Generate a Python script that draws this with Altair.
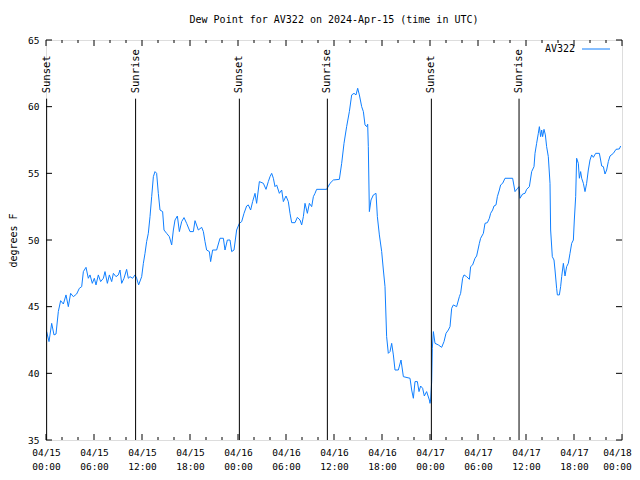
import altair as alt
import pandas as pd

# ---- data ----
title_text = "Dew Point for AV322 on 2024-Apr-15 (time in UTC)"
series_name = "AV322"

hours = [0.08, 0.375, 0.71, 1.0, 1.25, 1.54, 1.83, 2.17, 2.5, 2.79, 3.08, 3.42, 3.83, 4.17, 4.46, 4.67, 5.0, 5.29, 5.5, 5.79,
         6.04, 6.25, 6.54, 6.83, 7.17, 7.375, 7.67, 7.92, 8.21, 8.42, 8.75, 9.04, 9.25, 9.46, 9.75, 10.08, 10.29, 10.5, 10.83, 11.125,
         11.33, 11.58, 11.96, 12.17, 12.375, 12.58, 12.79, 13.0, 13.21, 13.42, 13.625, 13.83, 14.04, 14.25, 14.58, 14.75, 15.08, 15.42, 15.71, 15.92,
         16.125, 16.42, 16.67, 16.96, 17.25, 17.58, 18.0, 18.42, 18.625, 19.04, 19.46, 19.67, 19.875, 20.08, 20.42, 20.58, 20.83, 21.33, 21.75, 22.17,
         22.375, 22.67, 23.0, 23.21, 23.5, 23.83, 24.17, 24.46, 24.75, 25.08,
         25.29, 25.58, 25.83, 26.125, 26.33, 26.67, 27.17, 27.5, 27.79, 28.0, 28.21, 28.42, 28.625, 28.83, 29.17, 29.46, 29.67, 30.0, 30.29, 30.5,
         30.71, 31.125, 31.42, 31.75, 31.96, 32.17, 32.375, 32.67, 32.92, 33.21, 33.42, 33.625, 33.83, 35.08, 35.5, 35.92, 36.67, 36.96, 37.25, 37.58,
         37.92, 38.21, 38.5, 38.75, 38.96, 39.17, 39.46, 39.67, 39.875, 40.08, 40.21, 40.29, 40.42, 40.625, 40.92, 41.25, 41.42, 41.67, 41.96, 42.17,
         42.375, 42.58, 42.79, 43.0, 43.21, 43.42, 43.625, 44.04, 44.375, 44.67, 45.5, 45.71, 45.92, 46.125, 46.42, 46.625, 46.83, 47.08, 47.29, 47.58,
         47.92, 48.0,
         48.08, 48.21, 48.29, 48.42, 48.625, 49.04, 49.46, 49.75, 50.0, 50.29, 50.5, 50.71, 50.92, 51.33, 51.67, 51.83, 52.08, 52.25, 52.58, 52.92,
         53.08, 53.33, 53.625, 53.83, 54.17, 54.33, 54.67, 54.875, 55.17, 55.42, 55.58, 55.83, 56.0, 56.25, 56.42, 56.67, 56.83, 57.08, 57.375, 58.33,
         58.625, 58.96, 59.125, 59.25, 59.58, 59.875, 60.08, 60.42, 60.71, 61.0, 61.125, 61.33, 61.54, 61.67, 61.83, 61.96, 62.08, 62.25, 62.42, 62.58,
         62.79, 63.0, 63.08, 63.29, 63.5, 63.625, 63.83, 63.92, 64.17, 64.33, 64.46, 64.67, 64.875, 65.08, 65.29, 65.5, 65.71, 65.92, 66.04, 66.21,
         66.33, 66.54, 66.67, 66.83, 66.96, 67.17, 67.375, 67.58, 67.79, 68.0, 68.21, 68.42, 68.71, 69.17, 69.33, 69.46, 69.67, 69.875, 70.08, 70.29,
         70.5, 70.92, 71.25, 71.67, 71.83]
dewpoint = [43.13, 42.38, 43.75, 42.88, 42.95, 44.63, 45.45, 45.2, 45.88, 45.0, 46.0, 45.75, 45.95, 46.38, 46.5, 47.63, 47.95, 47.13, 47.38, 46.75,
            47.13, 46.63, 47.38, 46.88, 47.13, 47.63, 46.75, 47.38, 46.88, 47.5, 47.25, 47.38, 47.75, 46.75, 47.13, 47.8, 47.13, 47.25, 47.13, 47.38,
            47.13, 46.63, 47.25, 48.25, 49.0, 49.88, 50.5, 51.75, 53.25, 54.75, 55.13, 55.0, 53.5, 52.25, 52.13, 50.75, 50.5, 50.25, 49.63, 50.75,
            51.5, 51.8, 50.63, 51.38, 51.68, 51.25, 50.63, 50.63, 51.45, 50.75, 50.95, 50.63, 49.88, 49.25, 49.13, 48.38, 49.25, 49.25, 50.13, 50.13,
            49.25, 50.0, 50.0, 49.13, 49.25, 50.75, 51.25, 51.38, 52.0, 52.55,
            52.63, 52.25, 52.88, 53.5, 52.75, 54.38, 54.25, 53.8, 54.38, 54.75, 55.0, 54.63, 54.0, 54.13, 53.5, 53.75, 52.88, 53.3, 52.88, 52.0,
            51.3, 51.3, 51.7, 51.5, 51.13, 51.75, 52.75, 52.0, 52.75, 52.5, 53.25, 53.5, 53.8, 53.8, 54.25, 54.5, 54.55, 55.75, 57.25, 58.5,
            59.63, 60.88, 61.0, 60.88, 61.38, 60.88, 60.0, 59.63, 58.63, 58.5, 58.68, 57.0, 52.13, 53.0, 53.38, 53.5, 51.75, 50.38, 49.13, 47.75,
            46.5, 42.75, 41.5, 41.63, 42.25, 41.38, 40.25, 40.25, 41.0, 39.75, 39.63, 38.75, 38.13, 39.38, 39.38, 38.63, 39.05, 38.88, 38.3, 38.63,
            38.0, 37.75,
            38.0, 39.38, 41.88, 43.13, 42.25, 42.13, 41.95, 42.38, 43.0, 43.25, 43.5, 44.88, 45.13, 45.0, 45.75, 46.0, 47.13, 47.38, 47.25, 47.05,
            48.0, 48.13, 48.63, 48.8, 49.75, 50.13, 50.5, 51.25, 51.3, 51.63, 52.0, 52.25, 52.55, 52.63, 53.25, 53.75, 54.13, 54.25, 54.63, 54.63,
            53.63, 53.88, 54.0, 53.13, 53.45, 53.5, 53.8, 54.0, 55.13, 55.5, 56.5, 57.25, 58.0, 58.5, 57.75, 58.25, 57.75, 58.3, 57.88, 57.0,
            56.25, 54.25, 50.75, 48.75, 48.5, 47.75, 46.38, 45.88, 45.88, 46.5, 47.25, 48.25, 47.3, 48.0, 48.25, 49.0, 49.75, 50.0, 51.5, 53.25,
            56.13, 55.75, 54.63, 55.13, 54.63, 54.25, 53.63, 54.25, 55.25, 56.0, 56.38, 56.2, 56.5, 56.5, 56.0, 55.55, 55.5, 54.95, 55.25, 55.88,
            56.3, 56.5, 56.8, 56.83, 57.05]

sun_hours = [0.08, 11.2, 24.17, 35.17, 48.17, 59.13]
sun_labels = ["Sunset", "Sunrise", "Sunset", "Sunrise", "Sunset", "Sunrise"]

major_ticks = [0, 6, 12, 18, 24, 30, 36, 42, 48, 54, 60, 66, 72]
minor_ticks = [2, 4, 8, 10, 14, 16, 20, 22, 26, 28, 32, 34, 38, 40, 44, 46, 50, 52, 56, 58, 62, 64, 68, 70]
date_labels = ["04/15", "04/15", "04/15", "04/15", "04/16", "04/16", "04/16", "04/16", "04/17", "04/17", "04/17", "04/17", "04/18"]
time_labels = ["00:00", "06:00", "12:00", "18:00", "00:00", "06:00", "12:00", "18:00", "00:00", "06:00", "12:00", "18:00", "00:00"]
y_ticks = [35, 40, 45, 50, 55, 60, 65]

FONT = "DejaVu Sans Mono"
FS = 10
TICK_FS = 9.5
LINE_COLOR = "#0f7fff"
W, H = 576, 400

df = pd.DataFrame({"hour": hours, "dew": dewpoint})
sun_df = pd.DataFrame({"hour": sun_hours, "label": sun_labels})
major_df = pd.DataFrame({"hour": major_ticks})
minor_df = pd.DataFrame({"hour": minor_ticks})
ytick_df = pd.DataFrame({"dew": y_ticks})
legend_df = pd.DataFrame({"name": [series_name]})

xscale = alt.Scale(domain=[0, 72], nice=False, zero=False)
yscale = alt.Scale(domain=[35, 65], nice=False, zero=False)

dl = "[" + ",".join(f"'{d}'" for d in date_labels) + "]"
tl = "[" + ",".join(f"'{t}'" for t in time_labels) + "]"
label_expr = f"[{dl}[round(datum.value/6)], {tl}[round(datum.value/6)]]"

xaxis = alt.Axis(values=major_ticks, labelExpr=label_expr, ticks=False, domain=False, grid=False,
                 title=None, labelFont=FONT, labelFontSize=TICK_FS, labelColor="black",
                 labelPadding=7, labelLineHeight=14, labelAngle=0, labelAlign="center", labelFlush=False,
                 labelOverlap=False, labelOffset=alt.ExprRef("datum.value >= 72 ? -5 : 0"))
yaxis = alt.Axis(values=y_ticks, ticks=False, domain=False, grid=False, title="degrees F",
                 titleFont=FONT, titleFontSize=FS, titleFontWeight="normal", titleColor="black",
                 titlePadding=9, labelFont=FONT, labelFontSize=TICK_FS, labelColor="black",
                 labelPadding=7, labelFlush=False)

X = lambda: alt.X("hour:Q", scale=xscale, axis=xaxis)
Y = lambda: alt.Y("dew:Q", scale=yscale, axis=yaxis)

line = alt.Chart(df).mark_line(color=LINE_COLOR, strokeWidth=1, interpolate="linear").encode(x=X(), y=Y())

sun_rules = alt.Chart(sun_df).mark_rule(color="black", strokeWidth=1).encode(
    x=X(), y=alt.datum(35), y2=alt.datum(60.6))
sun_text = alt.Chart(sun_df).mark_text(angle=270, align="left", baseline="middle", font=FONT,
                                       fontSize=FS + 0.5, color="black").encode(
    x=X(), y=alt.datum(61.0), text="label:N")

# inward tick marks (gnuplot style, mirrored on all sides)
bot_major = alt.Chart(major_df).mark_rule(color="black").encode(x=X(), y=alt.value(H), y2=alt.value(H - 6))
top_major = alt.Chart(major_df).mark_rule(color="black").encode(x=X(), y=alt.value(0), y2=alt.value(6))
bot_minor = alt.Chart(minor_df).mark_rule(color="black").encode(x=X(), y=alt.value(H), y2=alt.value(H - 3))
top_minor = alt.Chart(minor_df).mark_rule(color="black").encode(x=X(), y=alt.value(0), y2=alt.value(3))
left_ticks = alt.Chart(ytick_df).mark_rule(color="black").encode(y=Y(), x=alt.value(0), x2=alt.value(6))
right_ticks = alt.Chart(ytick_df).mark_rule(color="black").encode(y=Y(), x=alt.value(W), x2=alt.value(W - 6))

legend_text = alt.Chart(legend_df).mark_text(align="right", baseline="middle", font=FONT, fontSize=FS,
                                             color="black").encode(
    text="name:N", x=alt.value(529), y=alt.value(9))
legend_line = alt.Chart(legend_df).mark_rule(color=LINE_COLOR, strokeWidth=1).encode(
    x=alt.value(536), x2=alt.value(564), y=alt.value(9))

chart = alt.layer(
    line, sun_rules, sun_text, bot_major, top_major, bot_minor, top_minor, left_ticks, right_ticks,
    legend_text, legend_line,
).properties(
    width=W, height=H,
    title=alt.TitleParams(title_text, font=FONT, fontSize=FS, fontWeight="normal", color="black",
                          anchor="middle", offset=10),
    autosize=alt.AutoSizeParams(type="none"),
    padding={"left": 38, "top": 32, "right": 10, "bottom": 32},
).configure_view(stroke="black", strokeWidth=1).configure(background="white")

chart.save("out.html", embed_options={"renderer": "svg", "actions": False})
